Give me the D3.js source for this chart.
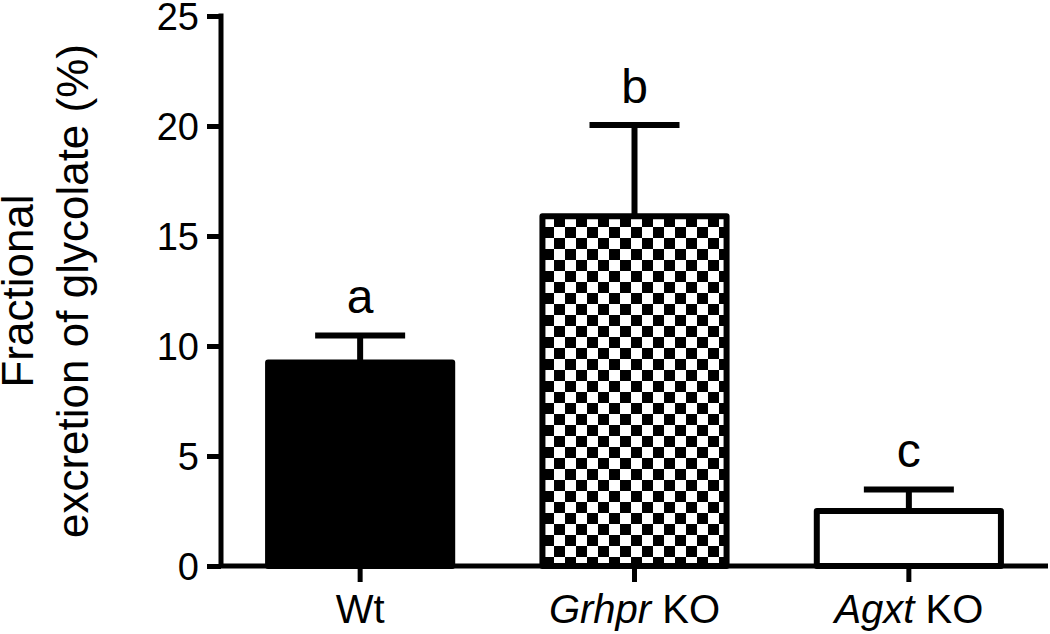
<!DOCTYPE html>
<html><head><meta charset="utf-8">
<script src="https://cdn.jsdelivr.net/npm/d3@7"></script>
<style>body{margin:0;background:#fff}svg{display:block}text{font-family:"Liberation Sans",Arial,Helvetica,sans-serif;fill:#000}</style>
</head><body><svg id="c" width="1050" height="634"></svg>
<script>
// Data
const categories = ["Wt", "Grhpr KO", "Agxt KO"];
const italicPart = ["", "Grhpr", "Agxt"];
const plainPart = ["Wt", " KO", " KO"];
const means = [9.25, 15.9, 2.5];
const errors = [1.23, 4.15, 0.98];
const sigLetters = ["a", "b", "c"];
const fills = ["solid", "checker", "white"];
const yTicks = [0, 5, 10, 15, 20, 25];
const yTitle = ["Fractional", "excretion of glycolate (%)"];

const svg = d3.select("#c");
const x = d3.scaleBand().domain(categories).range([222, 1047]).paddingInner(0.307).paddingOuter(0.157);
const y = d3.scaleLinear().domain([0, 25]).range([566, 16]);

// checker pattern
const defs = svg.append("defs");
const pat = defs.append("pattern").attr("id", "chk").attr("patternUnits", "userSpaceOnUse")
  .attr("x", 554).attr("y", 216).attr("width", 22).attr("height", 22);
pat.append("rect").attr("width", 22).attr("height", 22).attr("fill", "#fff");
pat.append("rect").attr("x", 0).attr("y", 0).attr("width", 11).attr("height", 11).attr("fill", "#000");
pat.append("rect").attr("x", 11).attr("y", 11).attr("width", 11).attr("height", 11).attr("fill", "#000");

const sw = 6;
const data = categories.map((c, i) => ({c, m: means[i], e: errors[i], l: sigLetters[i], f: fills[i], i}));

// error bars
const eb = svg.append("g").attr("stroke", "#000").attr("stroke-width", sw);
data.forEach(d => {
  const cx = x(d.c) + x.bandwidth() / 2;
  eb.append("line").attr("x1", cx).attr("x2", cx).attr("y1", y(d.m)).attr("y2", y(d.m + d.e));
  eb.append("line").attr("x1", cx - 45).attr("x2", cx + 45).attr("y1", y(d.m + d.e)).attr("y2", y(d.m + d.e));
});

// bars
svg.append("g").selectAll("rect").data(data).join("rect")
  .attr("x", d => x(d.c) + sw / 2)
  .attr("width", x.bandwidth() - sw)
  .attr("y", d => y(d.m))
  .attr("height", d => y(0) - y(d.m))
  .attr("fill", d => d.f === "solid" ? "#000" : d.f === "checker" ? "url(#chk)" : "#fff")
  .attr("stroke", "#000").attr("stroke-width", sw).attr("stroke-linejoin", "round");

// significance letters
svg.append("g").selectAll("text").data(data).join("text")
  .attr("x", d => x(d.c) + x.bandwidth() / 2)
  .attr("y", d => y(d.m + d.e) - 22)
  .attr("text-anchor", "middle").attr("font-size", 48)
  .text(d => d.l);

// y axis
const yAxis = svg.append("g").attr("transform", "translate(221,0)")
  .call(d3.axisLeft(y).tickValues(yTicks).tickSize(14).tickPadding(8).tickFormat(d3.format("d")));
yAxis.select(".domain").attr("d", `M0,${y(25) - 2.5}V${y(0)}`).attr("stroke", "#000").attr("stroke-width", 5);
yAxis.selectAll(".tick line").attr("stroke", "#000").attr("stroke-width", 5);
yAxis.selectAll(".tick text").attr("font-size", 38).attr("font-family", "Liberation Sans, Arial, sans-serif").attr("fill", "#000").attr("dy", "0.36em");

// x axis
const xAxis = svg.append("g").attr("transform", "translate(0,566)")
  .call(d3.axisBottom(x).tickSize(16).tickFormat(""));
xAxis.select(".domain").attr("d", "M219,0H1048").attr("stroke", "#000").attr("stroke-width", 5);
xAxis.selectAll(".tick line").attr("stroke", "#000").attr("stroke-width", 5);

// category labels
const cl = svg.append("g").selectAll("text").data(data).join("text")
  .attr("x", d => x(d.c) + x.bandwidth() / 2).attr("y", 623)
  .attr("text-anchor", "middle").attr("font-size", 40);
cl.each(function(d) {
  const t = d3.select(this);
  if (italicPart[d.i]) t.append("tspan").attr("font-style", "italic").text(italicPart[d.i]);
  t.append("tspan").text(plainPart[d.i]);
});

// y title
const tt = svg.append("text").attr("transform", "translate(33,291) rotate(-90)")
  .attr("text-anchor", "middle").attr("font-size", 44);
tt.append("tspan").attr("x", 0).attr("y", 0).text(yTitle[0]);
tt.append("tspan").attr("x", 0).attr("y", 55).text(yTitle[1]);
</script></body></html>
